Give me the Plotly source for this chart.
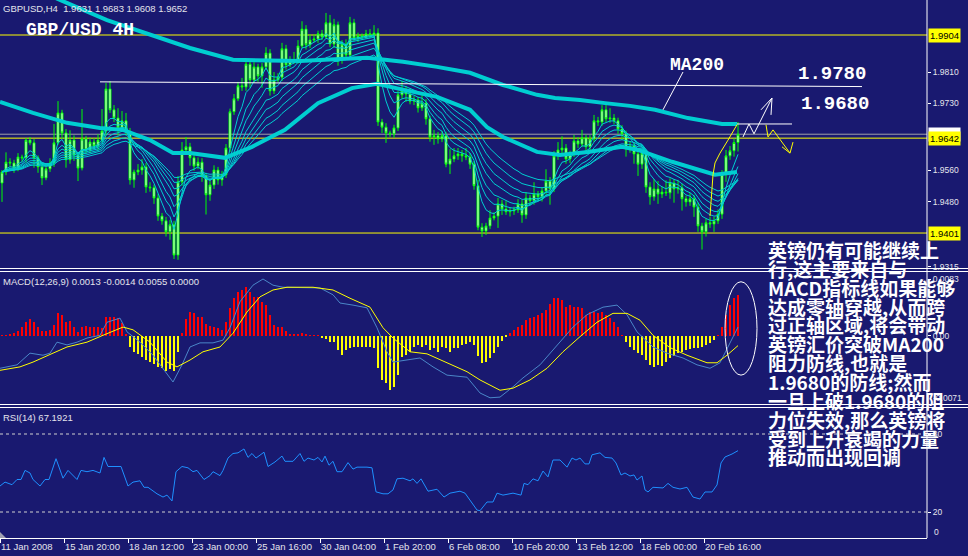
import plotly.graph_objects as go

# ---------------- DATA ----------------
first_open = 1.9528
closes = [
    1.9556, 1.9581, 1.9579, 1.9566, 1.9594, 1.9592, 1.9637, 1.9630, 1.9592, 1.9569,
    1.9541, 1.9564, 1.9579, 1.9630, 1.9706, 1.9655, 1.9587, 1.9637, 1.9599, 1.9566,
    1.9640, 1.9612, 1.9632, 1.9622, 1.9637, 1.9660, 1.9767, 1.9714, 1.9693, 1.9668,
    1.9686, 1.9658, 1.9536, 1.9556, 1.9561, 1.9569, 1.9518, 1.9516, 1.9490, 1.9444,
    1.9432, 1.9404, 1.9422, 1.9345, 1.9531, 1.9612, 1.9620, 1.9592, 1.9571, 1.9581,
    1.9546, 1.9498, 1.9523, 1.9561, 1.9536, 1.9549, 1.9617, 1.9709, 1.9742, 1.9775,
    1.9772, 1.9830, 1.9790, 1.9823, 1.9800, 1.9823, 1.9858, 1.9762, 1.9790, 1.9797,
    1.9869, 1.9828, 1.9838, 1.9841, 1.9876, 1.9919, 1.9879, 1.9891, 1.9894, 1.9907,
    1.9899, 1.9935, 1.9881, 1.9930, 1.9841, 1.9881, 1.9853, 1.9935, 1.9896, 1.9902,
    1.9899, 1.9907, 1.9904, 1.9909, 1.9683, 1.9670, 1.9655, 1.9653, 1.9668, 1.9752,
    1.9762, 1.9754, 1.9736, 1.9739, 1.9719, 1.9731, 1.9691, 1.9645, 1.9648, 1.9640,
    1.9648, 1.9576, 1.9589, 1.9597, 1.9602, 1.9597, 1.9594, 1.9576, 1.9521, 1.9416,
    1.9406, 1.9419, 1.9439, 1.9444, 1.9475, 1.9462, 1.9455, 1.9457, 1.9460, 1.9475,
    1.9447, 1.9490, 1.9483, 1.9500, 1.9493, 1.9508, 1.9533, 1.9513, 1.9597, 1.9612,
    1.9617, 1.9589, 1.9602, 1.9635, 1.9627, 1.9643, 1.9620, 1.9640, 1.9686, 1.9683,
    1.9714, 1.9691, 1.9693, 1.9686, 1.9665, 1.9653, 1.9615, 1.9622, 1.9602, 1.9576,
    1.9604, 1.9518, 1.9493, 1.9513, 1.9500, 1.9505, 1.9503, 1.9528, 1.9513, 1.9516,
    1.9488, 1.9480, 1.9488, 1.9467, 1.9419, 1.9404, 1.9427, 1.9424, 1.9432, 1.9449,
    1.9551, 1.9597, 1.9610, 1.9631, 1.9652,
]
# upper / lower wick lengths in pips
up_wick = [
    5, 25, 10, 8, 10, 6, 5, 8, 10, 6,
    8, 10, 12, 48, 30, 8, 10, 25, 12, 8,
    76, 8, 12, 10, 15, 56, 15, 20, 12, 25,
    25, 20, 10, 6, 15, 20, 10, 12, 8, 10,
    8, 10, 12, 10, 15, 20, 25, 10, 8, 12,
    10, 8, 10, 12, 8, 10, 10, 8, 12, 10,
    20, 15, 10, 12, 8, 10, 15, 10, 20, 10,
    15, 10, 12, 20, 15, 20, 10, 15, 12, 8,
    10, 25, 20, 15, 8, 10, 12, 15, 10, 8,
    6, 10, 12, 20, 12, 8, 10, 6, 8, 10,
    25, 12, 15, 10, 8, 20, 10, 8, 15, 10,
    12, 10, 25, 20, 15, 10, 20, 10, 8, 15,
    10, 8, 20, 10, 15, 10, 20, 10, 8, 12,
    10, 15, 8, 30, 8, 10, 30, 10, 12, 20,
    30, 10, 8, 15, 10, 20, 8, 10, 15, 10,
    12, 20, 25, 10, 8, 10, 8, 12, 10, 8,
    10, 8, 12, 25, 20, 15, 30, 12, 10, 20,
    10, 8, 15, 10, 12, 8, 10, 15, 10, 12,
    10, 15, 12, 10, 31,
]
down_wick = [
    48, 8, 10, 12, 8, 10, 12, 6, 25, 15,
    18, 6, 8, 10, 5, 15, 20, 10, 15, 33,
    6, 10, 8, 8, 10, 6, 12, 8, 10, 20,
    8, 10, 12, 20, 8, 12, 15, 10, 15, 12,
    10, 12, 20, 10, 12, 10, 10, 20, 12, 8,
    15, 50, 15, 10, 12, 15, 8, 10, 8, 6,
    10, 10, 20, 8, 15, 30, 8, 12, 8, 6,
    10, 12, 6, 8, 10, 5, 12, 8, 6, 10,
    8, 5, 8, 10, 15, 10, 8, 12, 8, 10,
    8, 5, 8, 8, 10, 15, 25, 8, 10, 8,
    10, 20, 8, 10, 12, 8, 15, 12, 20, 12,
    8, 8, 25, 8, 10, 15, 8, 12, 10, 8,
    15, 10, 8, 6, 30, 15, 8, 12, 10, 8,
    20, 10, 12, 10, 8, 12, 10, 40, 8, 10,
    8, 12, 10, 8, 10, 8, 10, 12, 8, 10,
    10, 8, 10, 8, 12, 15, 20, 10, 25, 30,
    12, 15, 20, 10, 25, 10, 8, 15, 35, 12,
    30, 12, 10, 25, 15, 45, 12, 10, 20, 8,
    12, 20, 10, 15, 23,
]

# thick moving averages (bar index, price)
ma200_idx = [9.5, 14.5, 26.25, 37.75, 47, 57.75, 67, 74.5, 84.5, 91.25, 95.75, 100.25,
             108.75, 117, 125.25, 133.75, 138.25, 144.5, 150.75, 157, 163.25, 171.5, 180, 183.75]
ma200_val = [2.0016, 1.9993, 1.9942, 1.9904, 1.9871, 1.9841, 1.9838, 1.9838, 1.9843, 1.9846,
             1.9841, 1.9836, 1.9823, 1.9808, 1.9777, 1.9752, 1.9744, 1.9739, 1.9731, 1.9724,
             1.9714, 1.9693, 1.9678, 1.9678]
ma_mid_idx = [-0.5, 7.75, 16.25, 24.5, 30.25, 37, 42.75, 47, 55.75, 62.5, 70.75, 79, 87.5,
              93.75, 100.75, 108.75, 117, 121.25, 125.25, 133.75, 139.5, 146.5, 155, 159,
              167.5, 175.75, 178.25, 183.75]
ma_mid_val = [1.9734, 1.9706, 1.9681, 1.9668, 1.9663, 1.9637, 1.9604, 1.9604, 1.9592, 1.9620,
              1.9663, 1.9731, 1.9769, 1.9780, 1.9764, 1.9747, 1.9714, 1.9670, 1.9645, 1.9607,
              1.9599, 1.9607, 1.9620, 1.9612, 1.9582, 1.9556, 1.9549, 1.9556]
ribbon_periods = [5, 8, 11, 15, 19, 24, 30]

# MACD histogram (one per bar), MACD line and signal line
macd_hist = [
    0.00001, 0.00007, 0.00015, 0.00039, 0.00077, 0.00127, 0.00208, 0.00248, 0.00199, 0.00135,
    0.00073, 0.00073, 0.00087, 0.00160, 0.00330, 0.00306, 0.00208, 0.00218, 0.00135, 0.00063,
    0.00135, 0.00146, 0.00127, 0.00135, 0.00135, 0.00112, 0.00281, 0.00281, 0.00272, 0.00266,
    0.00185, 0.00015, -0.00156, -0.00237, -0.00266, -0.00301, -0.00349, -0.00374, -0.00408, -0.00447,
    -0.00470, -0.00510, -0.00480, -0.00510, -0.00229, 0.00039, 0.00248, 0.00354, 0.00330, 0.00281,
    0.00281, 0.00170, 0.00150, 0.00135, 0.00121, 0.00087, 0.00208, 0.00403, 0.00549, 0.00645,
    0.00670, 0.00718, 0.00645, 0.00572, 0.00572, 0.00499, 0.00451, 0.00306, 0.00160, 0.00135,
    0.00135, 0.00077, 0.00015, 0.00025, 0.00015, 0.00048, 0.00025, 0.00004, 0.00004, 0.00004,
    -0.00033, -0.00048, -0.00083, -0.00092, -0.00204, -0.00277, -0.00204, -0.00179, -0.00156, -0.00156,
    -0.00156, -0.00156, -0.00156, -0.00170, -0.00470, -0.00641, -0.00689, -0.00786, -0.00738, -0.00568,
    -0.00301, -0.00277, -0.00229, -0.00156, -0.00131, -0.00156, -0.00131, -0.00204, -0.00179, -0.00229,
    -0.00156, -0.00179, -0.00237, -0.00179, -0.00170, -0.00131, -0.00121, -0.00092, -0.00131, -0.00287,
    -0.00397, -0.00374, -0.00325, -0.00252, -0.00156, -0.00073, -0.00004, 0.00039, 0.00087, 0.00135,
    0.00160, 0.00233, 0.00258, 0.00281, 0.00306, 0.00330, 0.00379, 0.00462, 0.00549, 0.00549,
    0.00524, 0.00427, 0.00451, 0.00427, 0.00427, 0.00403, 0.00306, 0.00354, 0.00354, 0.00330,
    0.00354, 0.00306, 0.00258, 0.00208, 0.00135, 0.00004, -0.00083, -0.00156, -0.00204, -0.00252,
    -0.00277, -0.00349, -0.00422, -0.00447, -0.00422, -0.00432, -0.00374, -0.00325, -0.00287, -0.00252,
    -0.00237, -0.00204, -0.00189, -0.00179, -0.00170, -0.00156, -0.00131, -0.00106, -0.00058, 0.00004,
    0.00135, 0.00306, 0.00451, 0.00549, 0.00597,
]
macd_idx = [-0.5, 3.75, 7, 10.25, 12, 13.75, 16.25, 18.75, 21.25, 24.5, 26.25, 29.5, 31.25,
            34.5, 37.75, 40.25, 42.75, 45, 47, 49.5, 52.75, 55.25, 57, 59.5, 62.75, 65.25,
            67.75, 70.25, 74.5, 79.5, 82.75, 84.5, 87.75, 91.25, 93.75, 96.25, 97.75, 101.25,
            104.5, 107.75, 111.25, 116.25, 119.5, 122, 124.5, 127.75, 130.25, 134.5, 138.75,
            142.75, 146.25, 150.25, 153.75, 156.25, 158.75, 162.75, 166.25, 170.25, 173.75,
            177, 179.5, 182, 184]
macd_val = [-0.0047, -0.0042, -0.0025, -0.0028, -0.0025, -0.0009, -0.0013, -0.0009, -0.0003,
            0.0001, 0.0020, 0.0026, 0.0006, -0.0009, -0.0028, -0.0047, -0.0067, -0.0042,
            -0.0016, -0.0010, -0.0010, -0.0006, 0.0012, 0.0050, 0.0074, 0.0083, 0.0074, 0.0071,
            0.0071, 0.0070, 0.0060, 0.0048, 0.0045, 0.0041, 0.0012, -0.0023, -0.0038, -0.0035,
            -0.0032, -0.0045, -0.0057, -0.0060, -0.0083, -0.0090, -0.0089, -0.0074, -0.0061,
            -0.0042, -0.0013, 0.0013, 0.0031, 0.0042, 0.0045, 0.0031, 0.0006, -0.0016, -0.0025,
            -0.0032, -0.0042, -0.0047, -0.0039, -0.0009, 0.0013]
sig_idx = [-0.5, 4.5, 7.75, 10.25, 12.75, 16.25, 21.25, 25.25, 30.25, 32.75, 37, 41.25, 43.75,
           47, 50.25, 54.5, 57.75, 61.25, 64.5, 67.75, 71.25, 77.75, 82.75, 87, 92, 95.25,
           97.75, 102, 106.25, 111.25, 116.25, 119.5, 124.5, 127.75, 132, 136.25, 140.25,
           144.5, 148.75, 152.75, 156.25, 159.5, 162.75, 167, 171.25, 176.25, 178.75, 181.25, 184]
sig_val = [-0.0050, -0.0045, -0.0038, -0.0032, -0.0025, -0.0016, -0.0009, 0.0001, 0.0013,
           0.0009, -0.0009, -0.0038, -0.0045, -0.0035, -0.0023, -0.0016, 0.0004, 0.0035,
           0.0057, 0.0067, 0.0071, 0.0071, 0.0067, 0.0055, 0.0042, 0.0012, -0.0003, -0.0023,
           -0.0026, -0.0039, -0.0052, -0.0064, -0.0079, -0.0076, -0.0064, -0.0047, -0.0023,
           -0.0001, 0.0020, 0.0033, 0.0033, 0.0023, 0.0001, -0.0017, -0.0028, -0.0039,
           -0.0039, -0.0028, -0.0014]

# RSI(14)
rsi_idx = [-0.5, 0.75, 2.5, 3.75, 4.75, 5.75, 7, 7.75, 9.5, 10.75, 11.75, 13.5, 15.25, 16.5,
           18.75, 19.75, 21.25, 22.75, 24.5, 25.5, 26.5, 28.25, 29.75, 31.5, 32.75, 34.5, 35.5,
           36.5, 38.75, 40.25, 41.25, 42.5, 43.5, 45, 46.5, 47.75, 48.75, 50.5, 52, 52.75, 54.5,
           55.25, 56.5, 57.75, 59, 60.5, 61.5, 62.5, 63.5, 65.5, 66.5, 68.25, 70, 70.75, 72.75,
           74.5, 75.5, 76.5, 78, 79, 80, 80.75, 81.75, 82.75, 83.75, 85, 86.5, 87.75, 88.75,
           91.25, 92.5, 93.5, 95.25, 96.5, 97.75, 98.75, 100.25, 102, 102.75, 103.75, 104.75,
           106.5, 108.75, 110.5, 112, 114.5, 115.75, 118.75, 119.5, 121.25, 122.75, 123.75,
           125.25, 127.75, 129.75, 130.5, 131.5, 132.75, 134, 135.25, 136.5, 137.75, 139.5,
           141.25, 142.5, 143.5, 144.5, 145.75, 146.75, 147.5, 148.25, 149.5, 150.75, 152.5,
           153.5, 154.75, 155.75, 157, 158, 158.75, 160, 160.75, 161.5, 162.75, 165.25, 166.5,
           167.75, 169.5, 171.25, 172.75, 174.5, 175.75, 177.5, 178.75, 179.75, 180.75, 182.5, 184]
rsi_val = [40, 43, 41, 45, 45, 52, 50, 45, 40, 45, 45, 61, 46, 52, 45, 52, 51, 52, 50, 62, 55,
           55, 55, 40, 43, 44, 39, 39, 34, 31.5, 33, 28.5, 51, 55, 54, 51, 52, 45, 48, 51, 48,
           52, 61.5, 65, 65.5, 68.5, 62, 65, 61.5, 66, 55, 58.5, 63, 59, 59, 65, 59, 61.5, 60,
           62, 58.5, 63, 56, 59, 51, 51, 58, 53, 54.5, 54.5, 54, 35.5, 34, 34, 37, 45.5, 46, 44,
           45.5, 42, 45.5, 36, 37.5, 31.5, 34.5, 36, 34.5, 21.5, 21, 27.7, 27.7, 34.5, 33, 34.5,
           33, 42, 41, 45.5, 44, 51.5, 47, 60, 60, 54.5, 61.5, 60, 61.5, 57, 57, 64, 64.5, 65.5,
           62, 61.5, 57.7, 48.5, 50, 47.7, 48.5, 44.6, 47.7, 37, 35.4, 39, 38.5, 42, 39, 37.7,
           39, 31.5, 30, 35.4, 35.4, 40.8, 57.7, 62.3, 64.6, 67.19]

# horizontal levels
level_yellow = [1.9904, 1.9642, 1.9401]
bid_price = 1.9652

# hand-drawn analysis lines (bar index, price)
trend_white_x, trend_white_y = [24.5, 215.0], [1.9785, 1.9773]
ma200_pointer_x, ma200_pointer_y = [170.25, 165.25], [1.9810, 1.9714]
top_white_x, top_white_y = [183.75, 197.5], [1.9678, 1.9678]
up_path_x, up_path_y = [185.25, 186.75, 188.0, 192.5], [1.9645, 1.9678, 1.9653, 1.9744]
up_head_x, up_head_y = [189.75, 192.5, 192.25], [1.9714, 1.9744, 1.9701]
down_path_x, down_path_y = [191.0, 191.5, 192.75, 197.0], [1.9676, 1.9645, 1.9663, 1.9604]
down_head_x, down_head_y = [195.0, 197.0, 197.75], [1.9620, 1.9604, 1.9632]
rally_x = [177.0, 177.75, 178.25, 179.5, 181.5, 183.75]
rally_y = [1.9444, 1.9549, 1.9579, 1.9604, 1.9637, 1.9676]
ellipse_x = [180.75, 188.75]
ellipse_y = [-0.0057, 0.0079]

date_labels = ["11 Jan 2008", "15 Jan 20:00", "18 Jan 12:00", "23 Jan 00:00", "25 Jan 16:00",
               "30 Jan 04:00", "1 Feb 20:00", "6 Feb 08:00", "10 Feb 20:00", "13 Feb 12:00",
               "18 Feb 00:00", "20 Feb 16:00"]
date_tick_idx = [-0.5, 15.5, 31.5, 47.5, 63.5, 79.5, 95.5, 111.5, 127.5, 143.5, 159.5, 175.5]

price_ticks = [1.9810, 1.9730, 1.9560, 1.9480, 1.9315]
macd_ticks = [0.0083, 0.0]
macd_ticktext = ["0.0083", "0.00"]
rsi_ticks = [80, 20]

cn_lines = ["英镑仍有可能继续上", "行,这主要来自与", "MACD指标线如果能够", "达成零轴穿越,从而跨",
            "过正轴区域,将会带动", "英镑汇价突破MA200", "阻力防线,也就是", "1.9680的防线;然而",
            "一旦上破1.9680的阻", "力位失效,那么英镑将", "受到上升衰竭的力量", "推动而出现回调"]

# ---------------- BUILD ----------------
W, H = 968, 556
PW, PH = 927, 538  # plot area in pixels
BG = "#191970"
CYAN = "#00CED1"
TXT = "#e4e4ec"


def px_x(x):
    return x / PW


def px_y(y):
    return (PH - y) / PH


n = len(closes)
idx = list(range(n))
opens = [first_open] + closes[:-1]
highs = [max(o, c) + u / 10000 for o, c, u in zip(opens, closes, up_wick)]
lows = [min(o, c) - d / 10000 for o, c, d in zip(opens, closes, down_wick)]


def ema(vals, p):
    k = 2.0 / (p + 1)
    out = [vals[0]]
    for v in vals[1:]:
        out.append(out[-1] + k * (v - out[-1]))
    return out


fig = go.Figure()

fig.add_trace(go.Candlestick(
    x=idx, open=opens, high=highs, low=lows, close=closes,
    increasing=dict(line=dict(color="#00ff00", width=1), fillcolor="#ffffff"),
    decreasing=dict(line=dict(color="#00ff00", width=1), fillcolor="#ffffff"),
    whiskerwidth=0, xaxis="x", yaxis="y", showlegend=False, hoverinfo="skip"))

for p in ribbon_periods:
    fig.add_trace(go.Scatter(x=idx, y=ema(closes, p), mode="lines",
                             line=dict(color=CYAN, width=1), xaxis="x", yaxis="y",
                             showlegend=False, hoverinfo="skip"))

fig.add_trace(go.Scatter(x=ma_mid_idx, y=ma_mid_val, mode="lines",
                         line=dict(color=CYAN, width=4), xaxis="x", yaxis="y",
                         showlegend=False, hoverinfo="skip"))
fig.add_trace(go.Scatter(x=ma200_idx, y=ma200_val, mode="lines",
                         line=dict(color=CYAN, width=4), xaxis="x", yaxis="y",
                         showlegend=False, hoverinfo="skip"))


def add_line(xs, ys, color, width=1):
    fig.add_trace(go.Scatter(x=xs, y=ys, mode="lines", line=dict(color=color, width=width),
                             xaxis="x", yaxis="y", showlegend=False, hoverinfo="skip",
                             cliponaxis=False))


add_line(trend_white_x, trend_white_y, "#ffffff")
add_line(ma200_pointer_x, ma200_pointer_y, "#ffffff")
add_line(top_white_x, top_white_y, "#ffffff")
add_line(up_path_x, up_path_y, "#ffffff")
add_line(up_head_x, up_head_y, "#ffffff")
add_line(down_path_x, down_path_y, "#ffff00")
add_line(down_head_x, down_head_y, "#ffff00")
add_line(rally_x, rally_y, "#ffff00")

# MACD
fig.add_trace(go.Bar(x=idx, y=macd_hist, width=0.28,
                     marker=dict(color=["#ff0000" if v > 0 else "#ffff00" for v in macd_hist],
                                 line=dict(width=0)),
                     xaxis="x2", yaxis="y2", showlegend=False, hoverinfo="skip"))
fig.add_trace(go.Scatter(x=macd_idx, y=macd_val, mode="lines",
                         line=dict(color="#4a86c8", width=1), xaxis="x2", yaxis="y2",
                         showlegend=False, hoverinfo="skip"))
fig.add_trace(go.Scatter(x=sig_idx, y=sig_val, mode="lines",
                         line=dict(color="#ffff00", width=1), xaxis="x2", yaxis="y2",
                         showlegend=False, hoverinfo="skip"))

# RSI
fig.add_trace(go.Scatter(x=rsi_idx, y=rsi_val, mode="lines",
                         line=dict(color="#1e90ff", width=1), xaxis="x3", yaxis="y3",
                         showlegend=False, hoverinfo="skip"))

xr = [-0.5, -0.5 + PW / 4.0]
price_range = [1.99929 - 268 * 0.000254, 1.99929]
common_x = dict(range=xr, showgrid=False, zeroline=False, fixedrange=True)

fig.update_layout(
    width=W, height=H,
    margin=dict(l=0, r=W - PW, t=0, b=H - PH),
    paper_bgcolor=BG, plot_bgcolor=BG,
    showlegend=False, bargap=0,
    font=dict(family="Liberation Sans, Arial, sans-serif", color=TXT, size=10),
    xaxis=dict(domain=[0, 1], anchor="y", showticklabels=False, ticks="", **common_x),
    xaxis2=dict(domain=[0, 1], anchor="y2", showticklabels=False, ticks="", **common_x),
    xaxis3=dict(domain=[0, 1], anchor="y3", tickvals=date_tick_idx, ticktext=date_labels,
                ticks="outside", ticklen=4, tickcolor="#ffffff", showline=True,
                linecolor="#ffffff", linewidth=1, ticklabelposition="outside right",
                tickangle=0, tickfont=dict(size=9.5, color=TXT), **common_x),
    xaxis_rangeslider_visible=False,
    yaxis=dict(domain=[(PH - 268) / PH, 1], range=price_range, side="right", anchor="x",
               tickvals=price_ticks, ticktext=[f"{v:.4f}" for v in price_ticks],
               ticks="outside", ticklen=3, tickcolor="#ffffff",
               tickfont=dict(size=8.5, color=TXT), showgrid=False, zeroline=False,
               fixedrange=True),
    yaxis2=dict(domain=[(PH - 405) / PH, (PH - 272) / PH], range=[-0.01005, 0.00932],
                side="right", anchor="x2", tickvals=macd_ticks, ticktext=macd_ticktext,
                ticks="outside", ticklen=3, tickcolor="#ffffff",
                tickfont=dict(size=8.5, color=TXT), showgrid=False, zeroline=False,
                fixedrange=True),
    yaxis3=dict(domain=[0, (PH - 408) / PH], range=[0, 100], side="right", anchor="x3",
                tickvals=rsi_ticks, ticktext=[str(v) for v in rsi_ticks],
                ticks="outside", ticklen=3, tickcolor="#ffffff",
                tickfont=dict(size=8.5, color=TXT), showgrid=False, zeroline=False,
                fixedrange=True),
)

shapes = []
for lv in level_yellow:
    shapes.append(dict(type="line", xref="paper", yref="y", x0=0, x1=1, y0=lv, y1=lv,
                       line=dict(color="#ffff00", width=1), layer="below"))
shapes.append(dict(type="line", xref="paper", yref="y", x0=0, x1=1, y0=bid_price, y1=bid_price,
                   line=dict(color="#a0a0a8", width=1), layer="below"))
for lv in rsi_ticks:
    shapes.append(dict(type="line", xref="paper", yref="y3", x0=0, x1=1, y0=lv, y1=lv,
                       line=dict(color="#d0d0d0", width=1, dash="3px,3px"), layer="below"))
for yy in [268.5, 271.5, 404.5, 407.5]:
    shapes.append(dict(type="line", xref="paper", yref="paper", x0=0, x1=W / PW,
                       y0=px_y(yy), y1=px_y(yy), line=dict(color="#ffffff", width=1)))
shapes.append(dict(type="line", xref="paper", yref="paper", x0=1, x1=1, y0=0, y1=1,
                   line=dict(color="#ffffff", width=1)))
shapes.append(dict(type="circle", xref="x2", yref="y2", x0=ellipse_x[0], x1=ellipse_x[1],
                   y0=ellipse_y[0], y1=ellipse_y[1], line=dict(color="#ffffff", width=1)))
shapes.append(dict(type="path", xref="paper", yref="paper",
                   path=f"M 0 {px_y(538)} L 0 {px_y(532)} L {px_x(6)} {px_y(538)} Z",
                   fillcolor="#a0a0b0", line=dict(width=0)))
fig.update_layout(shapes=shapes)

ann = []


def txt(x, y, s, size=9.5, color=TXT, family="Liberation Sans, Arial, sans-serif",
        xanchor="left", bg=None, bold=False):
    d = dict(x=px_x(x), y=px_y(y), xref="paper", yref="paper", text=(f"<b>{s}</b>" if bold else s),
             showarrow=False, xanchor=xanchor, yanchor="middle", borderpad=0,
             font=dict(size=size, color=color, family=family))
    if bg:
        d["bgcolor"] = bg
    ann.append(d)


txt(2, 8, "GBPUSD,H4  1.9631 1.9683 1.9608 1.9652")
txt(2, 281, "MACD(12,26,9) 0.0013 -0.0014 0.0055 0.0000")
txt(2, 417, "RSI(14) 67.1921")

MONO = "Liberation Mono, DejaVu Sans Mono, monospace"
txt(25, 30, "GBP/USD 4H", size=18, color="#ffffff", family=MONO, bold=True)
txt(669, 65, "MA200", size=18, color="#ffffff", family=MONO, bold=True)
txt(797, 74, "1.9780", size=19, color="#ffffff", family=MONO, bold=True)
txt(800, 104, "1.9680", size=19, color="#ffffff", family=MONO, bold=True)

box_font = "Liberation Sans, Arial, sans-serif"
ann.append(dict(x=1, y=bid_price, xref="paper", yref="y", text="1.9652", showarrow=False,
                xanchor="left", yanchor="middle", xshift=1, bgcolor="#ffffff", borderpad=1,
                font=dict(size=9.5, color="#000000", family=box_font)))
for lv in level_yellow:
    ann.append(dict(x=1, y=lv, xref="paper", yref="y", text=f"{lv:.4f}", showarrow=False,
                    xanchor="left", yanchor="middle", xshift=1, bgcolor="#ffff00", borderpad=1,
                    font=dict(size=9.5, color="#000000", family=box_font)))

txt(932, 398, "-0.0071", size=8.5)
txt(933, 532, "0", size=8.5)

CJK = "Noto Sans CJK SC, sans-serif"
for k, line in enumerate(cn_lines):
    txt(767, 249.5 + 18.86 * k, line, size=19, color="#ffffff", family=CJK, bold=True)

fig.update_layout(annotations=ann)

fig.write_html("out.html", config={"displayModeBar": False},
               post_script="document.body.style.margin='0';")
